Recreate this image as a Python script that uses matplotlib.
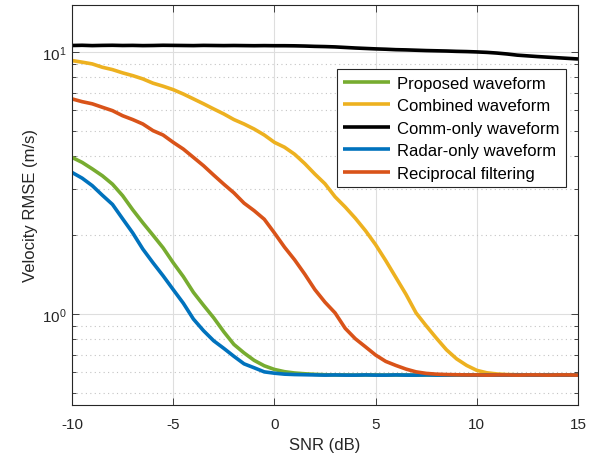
import matplotlib
matplotlib.use("Agg")
import matplotlib.pyplot as plt
from matplotlib.ticker import LogLocator, NullFormatter

plt.rcParams["font.family"] = ["Liberation Sans", "DejaVu Sans"]

# SNR sweep (dB), 0.5 dB step
snr_db = [-10, -9.5, -9, -8.5, -8, -7.5, -7, -6.5, -6, -5.5, -5, -4.5, -4,
          -3.5, -3, -2.5, -2, -1.5, -1, -0.5, 0, 0.5, 1, 1.5, 2, 2.5, 3, 3.5,
          4, 4.5, 5, 5.5, 6, 6.5, 7, 7.5, 8, 8.5, 9, 9.5, 10, 10.5, 11, 11.5,
          12, 12.5, 13, 13.5, 14, 14.5, 15]

# velocity RMSE (m/s) per scheme
rmse_proposed = [3.96, 3.79, 3.58, 3.37, 3.13, 2.83, 2.50, 2.23, 2.00, 1.79,
                 1.57, 1.39, 1.21, 1.08, 0.968, 0.856, 0.766, 0.711, 0.666,
                 0.635, 0.615, 0.603, 0.596, 0.592, 0.589, 0.587, 0.586,
                 0.586, 0.585, 0.586, 0.586, 0.585, 0.586, 0.586, 0.585,
                 0.586, 0.586, 0.585, 0.586, 0.586, 0.585, 0.586, 0.586,
                 0.585, 0.586, 0.586, 0.585, 0.586, 0.586, 0.585, 0.586]
rmse_combined = [9.27, 9.14, 9.00, 8.74, 8.56, 8.32, 8.12, 7.89, 7.60, 7.40,
                 7.18, 6.91, 6.62, 6.34, 6.06, 5.80, 5.52, 5.31, 5.08, 4.82,
                 4.52, 4.33, 4.07, 3.75, 3.42, 3.14, 2.80, 2.56, 2.32, 2.08,
                 1.84, 1.60, 1.38, 1.19, 1.01, 0.902, 0.810, 0.731, 0.675,
                 0.637, 0.610, 0.597, 0.591, 0.588, 0.587, 0.586, 0.586,
                 0.587, 0.586, 0.586, 0.587]
rmse_comm = [10.58, 10.60, 10.57, 10.59, 10.60, 10.58, 10.59, 10.57, 10.58,
             10.60, 10.59, 10.58, 10.57, 10.59, 10.58, 10.57, 10.58, 10.57,
             10.56, 10.57, 10.56, 10.56, 10.55, 10.53, 10.50, 10.48, 10.45,
             10.40, 10.35, 10.31, 10.27, 10.24, 10.20, 10.18, 10.15, 10.12,
             10.10, 10.08, 10.05, 10.03, 10.00, 9.96, 9.90, 9.82, 9.72, 9.66,
             9.60, 9.55, 9.50, 9.45, 9.40]
rmse_radar = [3.47, 3.30, 3.09, 2.84, 2.62, 2.31, 2.04, 1.77, 1.57, 1.40,
              1.24, 1.10, 0.957, 0.864, 0.791, 0.740, 0.690, 0.646, 0.624,
              0.602, 0.595, 0.590, 0.588, 0.587, 0.586, 0.585, 0.586, 0.585,
              0.585, 0.586, 0.585, 0.585, 0.586, 0.585, 0.585, 0.586, 0.585,
              0.585, 0.586, 0.585, 0.585, 0.586, 0.585, 0.585, 0.586, 0.585,
              0.585, 0.586, 0.585, 0.585, 0.586]
rmse_recip = [6.62, 6.46, 6.34, 6.15, 5.97, 5.71, 5.52, 5.31, 5.01, 4.82,
              4.52, 4.26, 3.96, 3.68, 3.39, 3.13, 2.90, 2.65, 2.48, 2.30,
              2.04, 1.80, 1.61, 1.42, 1.24, 1.11, 1.01, 0.882, 0.805, 0.750,
              0.698, 0.660, 0.637, 0.617, 0.602, 0.594, 0.590, 0.588, 0.587,
              0.586, 0.586, 0.585, 0.586, 0.586, 0.585, 0.586, 0.586, 0.585,
              0.586, 0.586, 0.585]

series = [
    ("Proposed waveform", rmse_proposed, "#77AC30"),
    ("Combined waveform", rmse_combined, "#EDB120"),
    ("Comm-only waveform", rmse_comm, "#000000"),
    ("Radar-only waveform", rmse_radar, "#0072BD"),
    ("Reciprocal filtering", rmse_recip, "#D95319"),
]

axis_col = "#262626"

fig = plt.figure(figsize=(6.02, 4.60), dpi=100)
ax = fig.add_axes([72 / 602, 54 / 460, 506 / 602, 400 / 460])

for label, vals, col in series:
    ax.plot(snr_db, vals, color=col, linewidth=2.6, label=label,
            solid_joinstyle="round", solid_capstyle="butt")

ax.set_yscale("log")
ax.set_xlim(-10, 15)
ax.set_ylim(0.45, 15.1)
ax.set_xticks([-10, -5, 0, 5, 10, 15])
ax.set_xticklabels(["-10", "-5", "0", "5", "10", "15"])
ax.yaxis.set_major_locator(LogLocator(base=10, numticks=10))
ax.yaxis.set_minor_locator(LogLocator(base=10, subs=range(2, 10), numticks=10))
ax.yaxis.set_minor_formatter(NullFormatter())

# solid major grid, dotted minor grid on the log axis
ax.grid(True, which="major", color="#dedede", linewidth=0.8, linestyle="-")
ax.grid(True, which="minor", axis="y", color="#c4c4c4", linewidth=0.8,
        linestyle=(0, (1, 3)))
ax.set_axisbelow(True)

ax.tick_params(which="both", direction="in", top=True, right=True,
               colors=axis_col, labelcolor=axis_col, width=0.6)
ax.tick_params(which="major", length=5, labelsize=11)
ax.tick_params(which="minor", length=3)
ax.tick_params(axis="x", which="major", pad=9)
ax.tick_params(axis="y", which="major", pad=4)
for sp in ax.spines.values():
    sp.set_color(axis_col)
    sp.set_linewidth(0.8)

ax.set_xlabel("SNR (dB)", fontsize=12, color=axis_col, labelpad=4)
ax.set_ylabel("Velocity RMSE (m/s)", fontsize=12, color=axis_col, labelpad=3)

leg = ax.legend(loc="upper right", bbox_to_anchor=(0.976, 0.84),
                borderaxespad=0, fontsize=12, fancybox=False, framealpha=1,
                edgecolor=axis_col, handlelength=2.8, labelspacing=0.45,
                borderpad=0.4, handletextpad=0.4)
leg.get_frame().set_linewidth(0.8)

fig.savefig("out.png", dpi=100)
